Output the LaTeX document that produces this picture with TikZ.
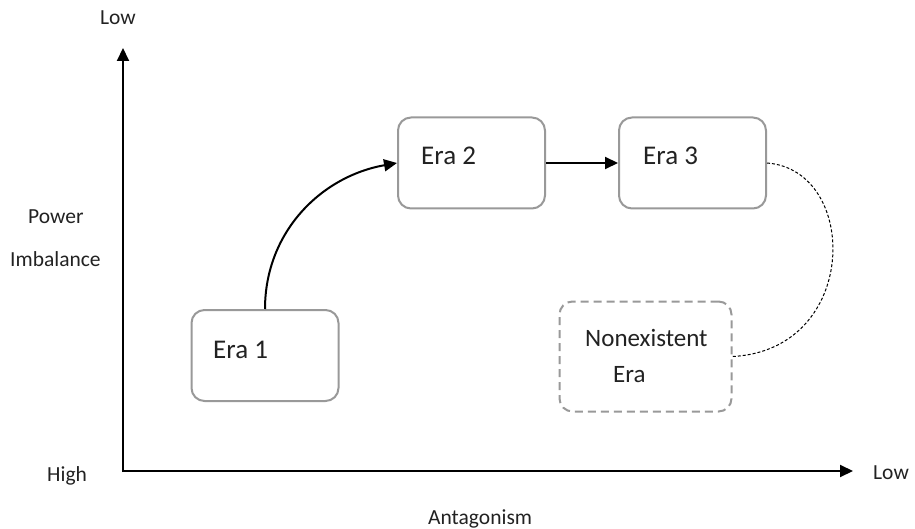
\documentclass[tikz,border=0pt]{standalone}
\usepackage{fontspec}
\setmainfont{Carlito}
\usetikzlibrary{arrows.meta}
\definecolor{boxgray}{HTML}{999999}
\definecolor{txt}{HTML}{222222}
\tikzset{
  erabox/.style={draw=boxgray, line width=2pt, rounded corners=13pt, minimum width=147pt, minimum height=91pt, inner sep=0pt, fill=white},
  nebox/.style={erabox, dash pattern=on 8pt off 5pt, minimum width=172pt, minimum height=110pt},
  eratext/.style={anchor=base west, inner sep=0pt, text=txt, font=\fontsize{27}{30}\selectfont},
  netext/.style={anchor=base west, inner sep=0pt, text=txt, font=\fontsize{25}{28}\selectfont},
  axlabel/.style={anchor=base west, inner sep=0pt, text=txt, font=\fontsize{21.5}{24}\selectfont},
  axis/.style={line width=2pt, -{Triangle[length=13pt,width=12pt]}},
  flow/.style={line width=2pt, -{Triangle[length=13pt,width=12pt]}},
}
\begin{document}
\begin{tikzpicture}[x=1pt,y=-1pt]
\useasboundingbox (0,0) rectangle (915,529);
% axes
\coordinate (origin) at (123,471);
\coordinate (ytop) at (123,48);
\coordinate (xend) at (853,471);
\draw[axis] ([yshift=-1pt]origin) -- (ytop);
\draw[axis] ([xshift=-1pt]origin) -- (xend);
% axis labels
\node[axlabel] (lowtop) at (100,25) {Low};
\node[axlabel] (lowright) at (873,479) {Low};
\node[axlabel] (high) at (47,481) {High};
\node[axlabel] (antag) at (428,524) {Antagonism};
\node[axlabel] (power) at (28,224) {Power};
\node[axlabel] (imbal) at (10,266) {Imbalance};
% boxes
\node[erabox] (e1) at (265,355.5) {};
\node[erabox] (e2) at (471.5,163) {};
\node[erabox] (e3) at (692.5,163) {};
\node[nebox] (ne) at (645.5,356.5) {};
% texts
\node[eratext] (t1) at (213,358) {Era 1};
\node[eratext] (t2) at (421,165) {Era 2};
\node[eratext] (t3) at (643,165) {Era 3};
\node[netext] (t4) at (585,346) {Nonexistent};
\node[netext] (t5) at (613,382) {Era};
% connectors
\draw[flow] (e1.north) to[out=90,in=190] (e2.west);
\draw[flow] (e2.east) -- (e3.west);
\draw[line width=1pt, dash pattern=on 3pt off 2pt] (e3.east) .. controls (860,170) and (860,350) .. (ne.east);
\end{tikzpicture}
\end{document}
